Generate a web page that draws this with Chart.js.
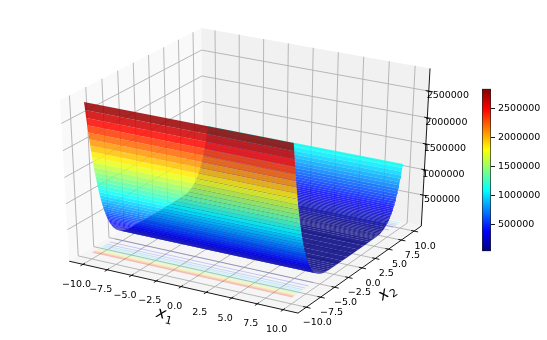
<!DOCTYPE html>
<html>
<head>
<meta charset="utf-8">
<script src="https://cdn.jsdelivr.net/npm/chart.js@4/dist/chart.umd.js"></script>
<style>
  html, body { margin: 0; background: #fff; }
  #surface { position: absolute; left: 0; top: 0; }
  #colorbar { position: absolute; left: 482px; top: 80px; }
</style>
</head>
<body>
<canvas id="surface" width="547" height="340"></canvas>
<canvas id="colorbar" width="65" height="180"></canvas>
<script>
const x1Ticks = [-10, -7.5, -5, -2.5, 0, 2.5, 5, 7.5, 10];
const x2Ticks = [-10, -7.5, -5, -2.5, 0, 2.5, 5, 7.5, 10];
const zTicks = [500000, 1000000, 1500000, 2000000, 2500000];
const x1Range = [-10, 10];

// surface height along x2, in thousands
const x2Rows = [-10, -9.9, -9.8, -9.7, -9.6, -9.5, -9.4, -9.3, -9.2, -9.1, -9, -8.9, -8.8, -8.7, -8.6, -8.5, -8.4, -8.3, -8.2, -8.1,
  -8, -7.9, -7.8, -7.7, -7.6, -7.5, -7.4, -7.3, -7.2, -7.1, -7, -6.9, -6.8, -6.7, -6.6, -6.5, -6.4, -6.3, -6.2, -6.1,
  -6, -5.8, -5.6, -5.4, -5.2, -5, -4.8, -4.6, -4.4, -4.2, -4, -3.6, -3.2, -2.8, -2.4, -2, -1, 0, 1, 2, 3, 4, 4.4, 4.8, 5, 5.2, 5.4, 5.6, 5.8,
  6, 6.2, 6.4, 6.6, 6.8, 7, 7.2, 7.4, 7.5, 7.6, 7.7, 7.8, 7.9, 8, 8.1, 8.2, 8.3, 8.4, 8.5, 8.6, 8.7, 8.8, 8.9,
  9, 9.1, 9.2, 9.3, 9.4, 9.5, 9.6, 9.7, 9.8, 9.9, 10];
const zRows = [2850, 2700, 2550, 2410, 2270, 2140, 2020, 1900, 1790, 1680, 1580, 1485, 1395, 1310, 1225, 1150, 1075, 1005, 940, 880,
  820, 765, 715, 665, 620, 575, 535, 497, 462, 428, 397, 368, 340, 315, 291, 269, 248, 228, 210, 194,
  178, 152, 130, 110, 95, 82, 71, 62, 55, 50, 46, 40, 37, 36, 35, 35, 35, 35, 35, 35, 35, 35, 36, 37, 38, 39, 41, 43, 45,
  47, 56, 66, 79, 94, 112, 134, 160, 174, 189, 206, 224, 244, 265, 288, 312, 338, 366, 396, 428, 462, 498, 538,
  580, 625, 672, 722, 775, 830, 890, 950, 1015, 1080, 1150];

// contour lines on the floor
const contourX2 = [-9.84, -9.7, -9.56, -9.4, -9.22, -9.03, -8.82, -8.59, -8.3, -8, -7.6, -7.05, -6.2, 7.8, 8.6, 9.08, 9.4, 9.8];
const contourZ = [2600, 2400, 2200, 2000, 1800, 1600, 1400, 1200, 1000, 800, 600, 400, 200, 200, 400, 600, 800, 1000];

const zMin = 35, zMax = 2850;
const limXY = 11.43, zLo = -120, zHi = 2920;

function jet(v) {
  const clip = t => Math.round(255 * Math.max(0, Math.min(1, t)));
  return [clip(Math.min(4 * v - 1.5, -4 * v + 4.5)), clip(Math.min(4 * v - 0.5, -4 * v + 3.5)), clip(Math.min(4 * v + 0.5, -4 * v + 2.5))];
}
function jetColor(z, alpha) {
  const c = jet((z - zMin) / (zMax - zMin));
  return 'rgba(' + c[0] + ',' + c[1] + ',' + c[2] + ',' + alpha + ')';
}

// same view as mplot3d at elev 30, azim -60, fitted to the window
function project(x1, x2, z) {
  const qx = x1 / (2 * limXY), qy = x2 / (2 * limXY), qz = (z - zLo) / (zHi - zLo) - 0.5;
  const xv = 0.866 * qx + 0.5 * qy;
  const yv = -0.25 * qx + 0.433 * qy + 0.866 * qz;
  const w = 10 - (0.433 * qx - 0.75 * qy + 0.5 * qz);
  return { x: 248 + 2641 * xv / w, y: 165.7 - 1838 * yv / w };
}

function poly(pts, color) {
  return { data: pts.map(p => project(p[0], p[1], p[2])), showLine: true, fill: 'shape', backgroundColor: color, borderWidth: 0, pointRadius: 0, tension: 0 };
}
function line(pts, color, width) {
  return { data: pts.map(p => project(p[0], p[1], p[2])), showLine: true, fill: false, borderColor: color, borderWidth: width, pointRadius: 0, tension: 0 };
}

const L = limXY;
const layers = [];

// panes
layers.push(poly([[-L, -L, zLo], [-L, L, zLo], [-L, L, zHi], [-L, -L, zHi]], 'rgb(249,249,249)'));
layers.push(poly([[-L, L, zLo], [L, L, zLo], [L, L, zHi], [-L, L, zHi]], 'rgb(241,241,241)'));
layers.push(poly([[-L, -L, zLo], [L, -L, zLo], [L, L, zLo], [-L, L, zLo]], 'rgb(245,245,245)'));

// grid
const gridColor = 'rgb(176,176,176)';
x1Ticks.forEach(v => layers.push(line([[v, -L, zLo], [v, L, zLo], [v, L, zHi]], gridColor, 0.9)));
x2Ticks.forEach(v => layers.push(line([[L, v, zLo], [-L, v, zLo], [-L, v, zHi]], gridColor, 0.9)));
zTicks.forEach(v => layers.push(line([[-L, -L, v / 1000], [-L, L, v / 1000], [L, L, v / 1000]], gridColor, 0.9)));

// axis lines and tick marks
layers.push(line([[-L, -L, zLo], [L, -L, zLo]], '#000', 0.9));
layers.push(line([[L, -L, zLo], [L, L, zLo]], '#000', 0.9));
layers.push(line([[L, L, zLo], [L, L, zHi]], '#000', 0.9));
x1Ticks.forEach(v => layers.push(line([[v, -L - 0.4, zLo], [v, -L + 0.3, zLo]], '#000', 0.9)));
x2Ticks.forEach(v => layers.push(line([[L + 0.4, v, zLo], [L - 0.3, v, zLo]], '#000', 0.9)));
zTicks.forEach(v => layers.push(line([[L + 0.4, L, v / 1000], [L - 0.3, L, v / 1000]], '#000', 0.9)));

// floor contours
contourX2.forEach((v, i) => layers.push(line([[x1Range[0], v, 0], [x1Range[1], v, 0]], jetColor(contourZ[i], 0.2), 1)));

// surface strips, far rows first
for (let i = x2Rows.length - 2; i >= 0; i--) {
  const a = zRows[i], b = zRows[i + 1];
  layers.push(poly([[x1Range[0], x2Rows[i], a], [x1Range[1], x2Rows[i], a], [x1Range[1], x2Rows[i + 1], b], [x1Range[0], x2Rows[i + 1], b]], jetColor((a + b) / 2, 0.85)));
}

const fontName = '"DejaVu Sans"';
const tickFont = '9.5px ' + fontName;
function fmt(v) {
  return (v < 0 ? '\u2212' : '') + Math.abs(v).toFixed(1);
}

const axisText = {
  id: 'axisText',
  afterDraw(chart) {
    const ctx = chart.ctx;
    ctx.save();
    ctx.fillStyle = '#000';
    ctx.font = tickFont;
    ctx.textAlign = 'center';
    ctx.textBaseline = 'middle';
    x1Ticks.forEach(v => {
      const p = project(v, -L, zLo);
      ctx.fillText(fmt(v), p.x - 6.5, p.y + 20);
    });
    x2Ticks.forEach(v => {
      const p = project(L, v, zLo);
      ctx.fillText(fmt(v), p.x + 11, p.y + 15.5);
    });
    zTicks.forEach(v => {
      const p = project(L, L, v / 1000);
      ctx.fillText(String(v), p.x + 19, p.y + 4.5);
    });
    drawAxisTitle(ctx, '1', 165, 316, 0.25);
    drawAxisTitle(ctx, '2', 388, 293, -0.6);
    ctx.restore();
  }
};

function drawAxisTitle(ctx, sub, cx, cy, angle) {
  ctx.save();
  ctx.translate(cx, cy);
  ctx.rotate(angle);
  ctx.textAlign = 'left';
  ctx.font = 'italic 16px ' + fontName;
  ctx.fillText('x', -9, -1);
  ctx.font = '11px ' + fontName;
  ctx.fillText(sub, 1, 4);
  ctx.restore();
}

new Chart(document.getElementById('surface'), {
  type: 'scatter',
  data: { datasets: layers.reverse() },
  plugins: [axisText],
  options: {
    responsive: false,
    animation: false,
    events: [],
    layout: { padding: 0 },
    plugins: { legend: { display: false }, tooltip: { enabled: false } },
    scales: {
      x: { type: 'linear', display: false, min: 0, max: 547 },
      y: { type: 'linear', display: false, min: 0, max: 340, reverse: true }
    }
  }
});

const barSteps = [0, 0.1, 0.125, 0.25, 0.375, 0.5, 0.625, 0.75, 0.875, 0.9, 1];

new Chart(document.getElementById('colorbar'), {
  type: 'bar',
  data: {
    labels: [''],
    datasets: [{
      data: [[zMin * 1000, zMax * 1000]],
      barPercentage: 1,
      categoryPercentage: 1,
      borderColor: '#222',
      borderWidth: 1,
      borderSkipped: false,
      backgroundColor(context) {
        const area = context.chart.chartArea;
        if (!area) return '#000';
        const g = context.chart.ctx.createLinearGradient(0, area.bottom, 0, area.top);
        barSteps.forEach(s => {
          const c = jet(s);
          g.addColorStop(s, 'rgb(' + c[0] + ',' + c[1] + ',' + c[2] + ')');
        });
        return g;
      }
    }]
  },
  options: {
    responsive: false,
    animation: false,
    events: [],
    layout: { padding: { top: 8, bottom: 8, left: 0, right: 0 } },
    plugins: { legend: { display: false }, tooltip: { enabled: false } },
    scales: {
      x: { display: false },
      y: {
        position: 'right',
        min: zMin * 1000,
        max: zMax * 1000,
        afterFit(scale) { scale.width = 56; },
        afterBuildTicks(scale) { scale.ticks = zTicks.map(v => ({ value: v })); },
        grid: { drawOnChartArea: false, color: '#000', tickLength: 4, tickWidth: 0.9 },
        border: { display: false },
        ticks: { color: '#000', padding: 3, autoSkip: false, font: { family: 'DejaVu Sans', size: 9.5 }, callback: v => String(v) }
      }
    }
  }
});
</script>
</body>
</html>
